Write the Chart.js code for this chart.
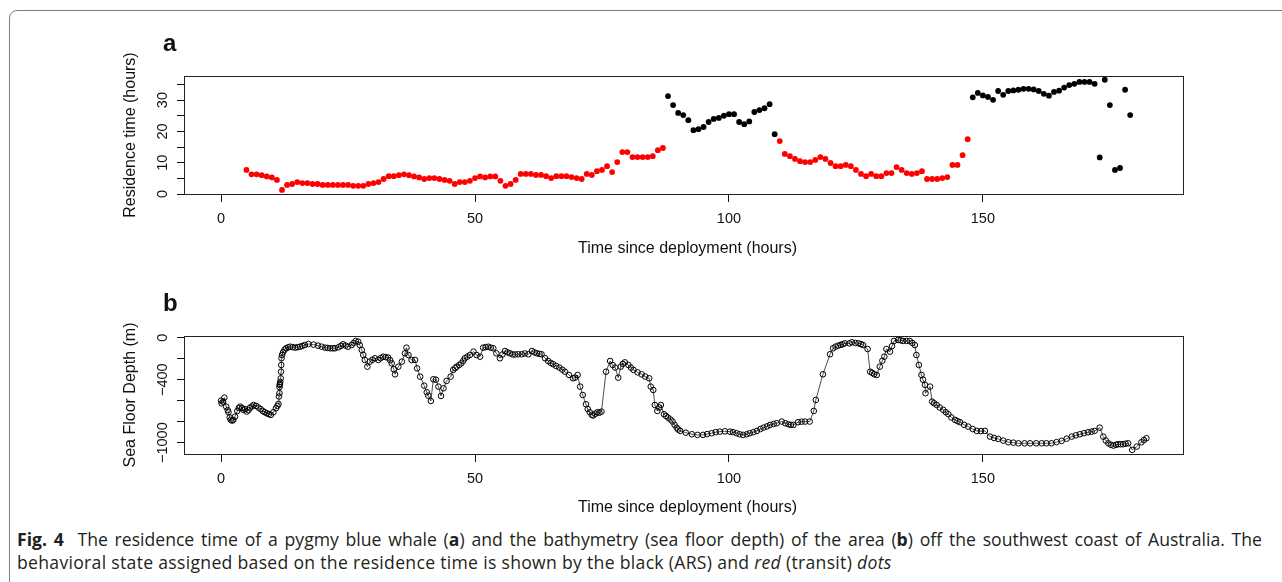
<!DOCTYPE html>
<html>
<head>
<meta charset="utf-8">
<script src="https://cdn.jsdelivr.net/npm/chart.js@4.4.1/dist/chart.umd.min.js"></script>
<style>
  body { margin: 0; background: #fff; width: 1282px; height: 582px; overflow: hidden; position: relative; }
  .frame { position: absolute; left: 9px; top: 10px; width: 1300px; height: 620px; border: 1.5px solid #7d7d7d; border-radius: 8px; }
  canvas { position: absolute; left: 0; }
  #chartA { top: 0; }
  #chartB { top: 262px; }
  .caption { position: absolute; left: 17px; font-family: "Open Sans", sans-serif; font-size: 17.6px; line-height: 23px; color: #231f20; white-space: nowrap; }
  .justified { width: 1245px; text-align: justify; text-align-last: justify; white-space: normal; }
</style>
</head>
<body>
<div class="frame"></div>
<canvas id="chartA" width="1282" height="262"></canvas>
<canvas id="chartB" width="1282" height="258"></canvas>
<div class="caption justified" style="top:528px"><b>Fig. 4</b>&nbsp; The residence time of a pygmy blue whale (<b>a</b>) and the bathymetry (sea floor depth) of the area (<b>b</b>) off the southwest coast of Australia. The</div>
<div class="caption" style="top:551px; letter-spacing:0.3px">behavioral state assigned based on the residence time is shown by the black (ARS) and <i>red</i> (transit) <i>dots</i></div>
<script>
// axis ticks
const tickHours = [0, 50, 100, 150];
const residenceTicks = [0, 5, 10, 15, 20, 25, 30, 35];
const residenceTickLabels = ['0', '', '10', '', '20', '', '30', ''];
const depthTicks = [0, -200, -400, -600, -800, -1000];
const depthTickLabels = ['0', '', '\u2212400', '', '', '\u22121000'];

// panel a: residence time, one value per hour starting at hour 5
const firstHour = 5;
const residence = [
  7.7, 6.3, 6.3, 6.0, 5.6, 5.3, 4.5, 1.3, 2.9, 3.2,
  3.8, 3.5, 3.5, 3.2, 3.2, 2.9, 2.9, 2.9, 2.9, 2.9,
  2.9, 2.6, 2.6, 2.6, 3.2, 3.5, 3.8, 4.8, 5.7, 5.7,
  6.0, 6.3, 6.0, 5.6, 5.3, 4.8, 5.1, 5.1, 4.8, 4.5,
  4.2, 3.2, 3.8, 3.8, 4.2, 5.1, 5.6, 5.3, 5.6, 5.6,
  4.2, 2.6, 3.2, 4.5, 6.4, 6.4, 6.4, 6.1, 6.1, 5.7,
  5.1, 5.7, 5.7, 5.7, 5.4, 5.1, 4.8, 6.4, 6.1, 7.3,
  7.7, 8.9, 7.0, 10.2, 13.4, 13.4, 11.8, 11.8, 11.8, 11.8,
  12.1, 14.0, 14.7, 31.3, 28.4, 25.9, 25.2, 23.6, 20.4, 20.7,
  21.4, 23.0, 24.0, 24.3, 25.0, 25.5, 25.5, 23.0, 22.3, 23.2,
  26.2, 26.8, 27.4, 28.7, 19.1, 16.9, 12.8, 12.1, 11.2, 10.5,
  10.2, 10.2, 10.9, 11.8, 11.2, 9.9, 8.9, 8.9, 9.3, 8.9,
  7.7, 6.4, 5.7, 6.4, 5.7, 5.7, 6.7, 6.7, 8.6, 7.7,
  6.7, 6.4, 6.7, 7.3, 4.8, 4.8, 4.8, 5.1, 5.4, 9.3,
  9.3, 12.4, 17.5, 30.9, 32.3, 31.5, 31.0, 30.1, 32.9, 31.7,
  32.9, 33.1, 33.3, 33.6, 33.6, 33.4, 32.9, 32.0, 31.4, 32.6,
  33.0, 34.0, 34.8, 35.2, 35.8, 35.8, 35.8, 35.2, 11.7, 36.5,
  28.4, 7.7, 8.3, 33.3, 25.2
];
// hours classed as ARS (black), the rest are transit (red)
const arsHours = [[88, 109], [148, 179]];

// panel b: sea floor depth along the track
const depthHours = [
  0.0, 0.1, 0.4, 0.65, 1.0, 1.3, 1.45, 1.7, 1.9, 2.2, 2.4, 2.75, 3.2, 3.5, 3.75,
  4.1, 4.4, 4.7, 5.05, 5.4, 5.7, 6.1, 6.4, 6.9, 7.35, 7.8, 8.2, 8.6, 9.0, 9.4,
  9.8, 10.3, 10.8, 11.1, 11.3, 11.4, 11.5, 11.5, 11.55, 11.6, 11.65, 11.75, 11.8, 11.85, 11.9,
  12.0, 12.2, 12.5, 12.8, 13.2, 13.6, 14.1, 14.6, 15.1, 15.55, 16.0, 16.5, 17.2, 18.2, 19.1,
  19.8, 20.5, 21.0, 21.5, 22.0, 22.4, 23.1, 23.6, 24.0, 24.5, 25.0, 25.7, 26.1, 26.5, 27.0,
  27.3, 27.7, 28.0, 28.3, 28.8, 29.3, 29.8, 30.3, 30.95, 31.4, 31.9, 32.4, 32.9, 33.3, 33.6,
  34.0, 34.25, 34.9, 35.6, 36.2, 36.5, 36.9, 37.5, 38.2, 38.6, 39.2, 40.0, 40.5, 40.8, 41.3,
  41.8, 42.3, 42.8, 43.3, 43.8, 44.4, 45.2, 45.7, 46.1, 46.4, 46.9, 47.3, 47.7, 48.0, 48.5,
  49.0, 49.7, 50.3, 51.0, 51.6, 52.1, 52.6, 53.1, 53.6, 54.2, 54.9, 55.4, 55.9, 56.4, 56.9,
  57.4, 57.9, 58.5, 59.2, 59.8, 60.5, 61.2, 61.7, 62.2, 62.7, 63.1, 63.8, 64.4, 64.9, 65.4,
  66.0, 66.6, 67.2, 67.7, 68.5, 69.3, 69.7, 70.2, 70.7, 71.2, 71.85, 72.2, 72.6, 73.0, 73.3,
  73.7, 74.1, 74.5, 74.9, 75.8, 76.6, 77.1, 77.6, 78.2, 78.7, 79.1, 79.5, 80.2, 80.7, 81.2,
  82.0, 82.8, 83.5, 84.3, 84.6, 85.1, 85.4, 85.9, 86.3, 86.6, 87.2, 87.6, 88.0, 88.5, 88.9,
  89.3, 89.7, 90.0, 90.4, 91.5, 92.7, 93.8, 94.9, 95.7, 96.6, 97.4, 98.2, 99.2, 100.2, 100.8,
  101.5, 102.1, 102.8, 103.5, 104.1, 104.8, 105.5, 106.2, 106.8, 107.5, 108.1, 108.8, 109.4, 110.4, 111.1,
  111.7, 112.2, 112.7, 113.6, 114.3, 115.0, 115.9, 116.7, 117.1, 118.5, 119.9, 120.5, 121.0, 121.5, 122.0,
  122.4, 122.8, 123.7, 124.2, 124.9, 125.5, 126.0, 126.4, 127.3, 127.8, 128.2, 128.6, 129.1, 129.7, 130.2,
  130.6, 131.0, 131.7, 132.1, 132.5, 133.3, 133.8, 134.3, 135.0, 135.6, 136.1, 136.6, 136.9, 137.4, 137.9,
  138.2, 138.6, 138.7, 139.6, 140.0, 140.4, 140.9, 141.5, 142.2, 142.7, 143.2, 143.8, 144.5, 145.0, 145.5,
  146.3, 147.1, 148.0, 148.8, 149.6, 150.4, 151.4, 152.2, 153.0, 154.0, 155.0, 156.0, 157.0, 158.2, 159.3,
  160.5, 161.6, 162.5, 163.5, 164.5, 165.5, 166.5, 167.5, 168.3, 169.1, 169.9, 170.7, 171.4, 172.0, 173.0,
  173.7, 174.2, 174.7, 175.2, 175.7, 176.2, 176.6, 177.1, 177.6, 178.1, 178.6, 179.4, 180.3, 181.2, 181.7,
  182.2
];
const depthMetres = [
  -600, -625, -610, -571, -657, -690, -710, -760, -783, -790, -783, -752, -698, -670, -657,
  -670, -688, -680, -704, -690, -666, -655, -641, -650, -666, -680, -698, -710, -720, -728,
  -736, -710, -672, -650, -631, -560, -529, -470, -450, -440, -420, -387, -324, -260, -196,
  -165, -139, -115, -101, -92, -86, -90, -95, -90, -86, -78, -70, -60, -66, -76,
  -86, -95, -98, -101, -101, -101, -92, -78, -63, -75, -86, -70, -50, -31, -38,
  -70, -117, -165, -212, -276, -228, -210, -196, -212, -195, -181, -185, -190, -215, -244,
  -300, -349, -276, -228, -149, -95, -165, -212, -212, -292, -371, -457, -520, -552, -603,
  -396, -400, -466, -555, -482, -412, -371, -307, -290, -276, -260, -244, -220, -196, -180,
  -165, -133, -165, -181, -95, -90, -86, -95, -101, -149, -196, -160, -127, -140, -149,
  -160, -160, -158, -158, -150, -158, -127, -140, -149, -155, -158, -196, -222, -240, -253,
  -270, -285, -305, -324, -355, -387, -380, -355, -466, -546, -634, -680, -710, -735, -742,
  -725, -710, -715, -704, -324, -222, -260, -285, -381, -276, -250, -235, -260, -285, -307,
  -330, -349, -370, -387, -466, -498, -641, -698, -665, -641, -729, -745, -761, -780, -799,
  -830, -857, -875, -888, -905, -920, -926, -926, -918, -910, -900, -895, -892, -895, -900,
  -910, -920, -926, -920, -910, -900, -888, -870, -857, -845, -831, -822, -815, -799, -815,
  -825, -831, -831, -805, -800, -799, -799, -698, -593, -349, -158, -101, -85, -76, -68,
  -63, -54, -54, -44, -50, -54, -62, -70, -108, -324, -335, -349, -355, -276, -220,
  -181, -108, -133, -80, -31, -22, -25, -31, -30, -31, -50, -70, -165, -260, -355,
  -400, -450, -529, -466, -609, -625, -641, -665, -688, -710, -729, -760, -783, -795, -805,
  -830, -847, -870, -888, -890, -888, -942, -955, -964, -980, -996, -1000, -1006, -1006, -1006,
  -1006, -1006, -1006, -1006, -995, -983, -962, -942, -930, -920, -910, -901, -895, -888, -857,
  -942, -980, -1006, -1020, -1028, -1020, -1015, -1015, -1015, -1010, -1006, -1069, -1037, -996, -975,
  -958
];

const transit = [];
const ars = [];
residence.forEach((v, i) => {
  const h = firstHour + i;
  const isArs = arsHours.some(([a, b]) => h >= a && h <= b);
  (isArs ? ars : transit).push({ x: h, y: v });
});
const depthPoints = depthHours.map((h, i) => ({ x: h, y: depthMetres[i] }));

// box, rotated R-style labels and titles
const panelText = {
  id: 'panelText',
  afterDraw(chart, args, o) {
    const ctx = chart.ctx;
    const a = chart.chartArea;
    const xs = chart.scales.x;
    const ys = chart.scales.y;
    ctx.save();
    ctx.strokeStyle = '#222';
    ctx.lineWidth = 1;
    ctx.strokeRect(Math.round(a.left) + 0.5, Math.round(a.top) + 0.5, Math.round(a.right - a.left), Math.round(a.bottom - a.top));
    ctx.fillStyle = '#111';
    ctx.textBaseline = 'alphabetic';
    ctx.textAlign = 'center';
    ctx.font = '14.5px "Liberation Sans", Arial, sans-serif';
    tickHours.forEach(h => ctx.fillText(String(h), xs.getPixelForValue(h), a.bottom + o.xLabelGap));
    o.yTicks.forEach((v, i) => {
      if (!o.yLabels[i]) return;
      ctx.save();
      ctx.translate(a.left - o.yLabelGap, ys.getPixelForValue(v));
      ctx.rotate(-Math.PI / 2);
      ctx.fillText(o.yLabels[i], 0, 0);
      ctx.restore();
    });
    ctx.font = '16px "Liberation Sans", Arial, sans-serif';
    ctx.fillText(o.xTitle, (a.left + a.right) / 2 + 4, a.bottom + o.xTitleGap);
    ctx.save();
    ctx.translate(o.yTitleX, (a.top + a.bottom) / 2);
    ctx.rotate(-Math.PI / 2);
    ctx.fillText(o.yTitle, 0, 0);
    ctx.restore();
    ctx.font = 'bold 24px "Liberation Sans", Arial, sans-serif';
    ctx.textAlign = 'left';
    ctx.fillText(o.letter, o.letterX, o.letterY);
    ctx.restore();
  }
};

function makeScales(xMin, xMax, yMin, yMax, yTicks, xAxisHeight) {
  return {
    x: {
      type: 'linear', min: xMin, max: xMax,
      afterBuildTicks: s => { s.ticks = tickHours.map(v => ({ value: v })); },
      afterFit: s => { s.height = xAxisHeight; },
      ticks: { display: false },
      grid: { display: true, drawOnChartArea: false, drawTicks: true, tickLength: 8, color: '#111', lineWidth: 1 },
      border: { display: false }
    },
    y: {
      type: 'linear', min: yMin, max: yMax,
      afterBuildTicks: s => { s.ticks = yTicks.map(v => ({ value: v })); },
      afterFit: s => { s.width = 184; },
      ticks: { display: false },
      grid: { display: true, drawOnChartArea: false, drawTicks: true, tickLength: 7, color: '#111', lineWidth: 1 },
      border: { display: false }
    }
  };
}

new Chart(document.getElementById('chartA'), {
  type: 'scatter',
  data: {
    datasets: [
      { label: 'transit', data: transit, backgroundColor: '#ff0000', pointRadius: 2.9, borderWidth: 0 },
      { label: 'ARS', data: ars, backgroundColor: '#000000', pointRadius: 2.9, borderWidth: 0 }
    ]
  },
  options: {
    responsive: false,
    animation: false,
    devicePixelRatio: 1,
    layout: { padding: { left: 0, right: 99, top: 76, bottom: 0 } },
    plugins: {
      legend: { display: false },
      tooltip: { enabled: false },
      panelText: {
        yTicks: residenceTicks, yLabels: residenceTickLabels,
        xLabelGap: 28.7, yLabelGap: 17.3, xTitleGap: 58.5, yTitleX: 135,
        xTitle: 'Time since deployment (hours)', yTitle: 'Residence time (hours)',
        letter: 'a', letterX: 163, letterY: 50.7
      }
    },
    scales: makeScales(-7.3, 189.4, 0, 37.7, residenceTicks, 68)
  },
  plugins: [panelText]
});

new Chart(document.getElementById('chartB'), {
  type: 'scatter',
  data: {
    datasets: [{
      label: 'depth', data: depthPoints, showLine: true,
      borderColor: '#222', borderWidth: 0.8,
      pointRadius: 2.8, pointBorderWidth: 1, pointBorderColor: '#000', pointBackgroundColor: 'rgba(0,0,0,0)'
    }]
  },
  options: {
    responsive: false,
    animation: false,
    devicePixelRatio: 1,
    layout: { padding: { left: 0, right: 99, top: 74, bottom: 0 } },
    plugins: {
      legend: { display: false },
      tooltip: { enabled: false },
      panelText: {
        yTicks: depthTicks, yLabels: depthTickLabels,
        xLabelGap: 28.7, yLabelGap: 17.3, xTitleGap: 58, yTitleX: 135,
        xTitle: 'Time since deployment (hours)', yTitle: 'Sea Floor Depth (m)',
        letter: 'b', letterX: 163, letterY: 48.7
      }
    },
    scales: makeScales(-7.3, 189.4, -1108, 16, depthTicks, 66)
  },
  plugins: [panelText]
});
</script>
</body>
</html>
